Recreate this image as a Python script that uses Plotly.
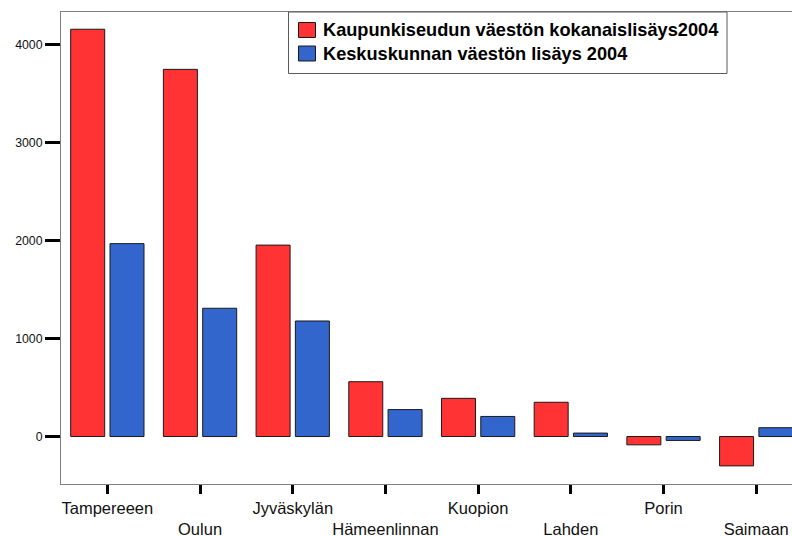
import plotly.graph_objects as go

categories = ["Tampereeen", "Oulun", "Jyväskylän", "Hämeenlinnan",
              "Kuopion", "Lahden", "Porin", "Saimaan"]
kaupunkiseutu = [4160, 3750, 1955, 560, 390, 350, -85, -300]
keskuskunta = [1970, 1310, 1180, 275, 205, 35, -40, 90]
series_names = ["Kaupunkiseudun väestön kokanaislisäys2004",
                "Keskuskunnan väestön lisäys 2004"]
series_colors = ["#FF3333", "#3366CC"]
y_ticks = [0, 1000, 2000, 3000, 4000]

# staggered tick labels (every second one on a lower row)
tick_text = [c if i % 2 == 0 else "<br>" + c for i, c in enumerate(categories)]

W, H = 792, 536
L, R, T, B = 61, 0, 12, 52
PW, PH = W - L - R, H - T - B


def px(x):
    return (x - L) / PW


def py(y):
    return (H - B - y) / PH


fig = go.Figure()
for name, vals, col in zip(series_names, [kaupunkiseutu, keskuskunta], series_colors):
    fig.add_trace(go.Bar(x=categories, y=vals, name=name,
                         marker=dict(color=col, line=dict(color="#1a1a1a", width=1))))

# custom legend box (to match the reference's compact layout)
shapes = [dict(type="rect", xref="paper", yref="paper",
               x0=px(288.5), x1=px(727), y0=py(73.5), y1=py(12),
               line=dict(color="#5a5a5a", width=1), fillcolor="white", layer="above")]
annotations = []
rows_y = [30, 53.5]
for name, col, ry in zip(series_names, series_colors, rows_y):
    shapes.append(dict(type="rect", xref="paper", yref="paper",
                       x0=px(298.5), x1=px(315.5), y0=py(ry + 7.5), y1=py(ry - 7.5),
                       line=dict(color="#1a1a1a", width=1), fillcolor=col, layer="above"))
    annotations.append(dict(xref="paper", yref="paper", x=px(321), y=py(ry),
                            xanchor="left", yanchor="middle", showarrow=False,
                            text=name, font=dict(size=18.2, color="black", weight="bold")))

fig.update_layout(
    width=W, height=H,
    margin=dict(l=L, r=R, t=T, b=B),
    paper_bgcolor="white", plot_bgcolor="white",
    barmode="group", bargap=0.152, bargroupgap=0.135,
    font=dict(family="Liberation Sans, Arial, sans-serif", color="black"),
    showlegend=False,
    shapes=shapes, annotations=annotations,
)
fig.update_xaxes(
    type="category", range=[-0.5, 7.386],
    tickmode="array", tickvals=categories, ticktext=tick_text, tickangle=0,
    ticks="outside", ticklen=9, tickwidth=3, tickcolor="black",
    tickfont=dict(size=16.5, color="#111111"),
    showline=True, linecolor="#808080", linewidth=1, mirror=True,
    showgrid=False, zeroline=False, automargin=False,
)
fig.update_yaxes(
    range=[-485, 4336],
    tickmode="array", tickvals=y_ticks,
    ticks="outside", ticklen=15, tickwidth=3, tickcolor="black",
    tickfont=dict(size=12.3, color="#111111"),
    showline=True, linecolor="#808080", linewidth=1, mirror=True,
    showgrid=False, zeroline=False, automargin=False,
)

fig.write_html(
    "out.html",
    config={"displayModeBar": False},
    post_script="document.body.style.margin='0';document.body.style.overflow='hidden';",
)
